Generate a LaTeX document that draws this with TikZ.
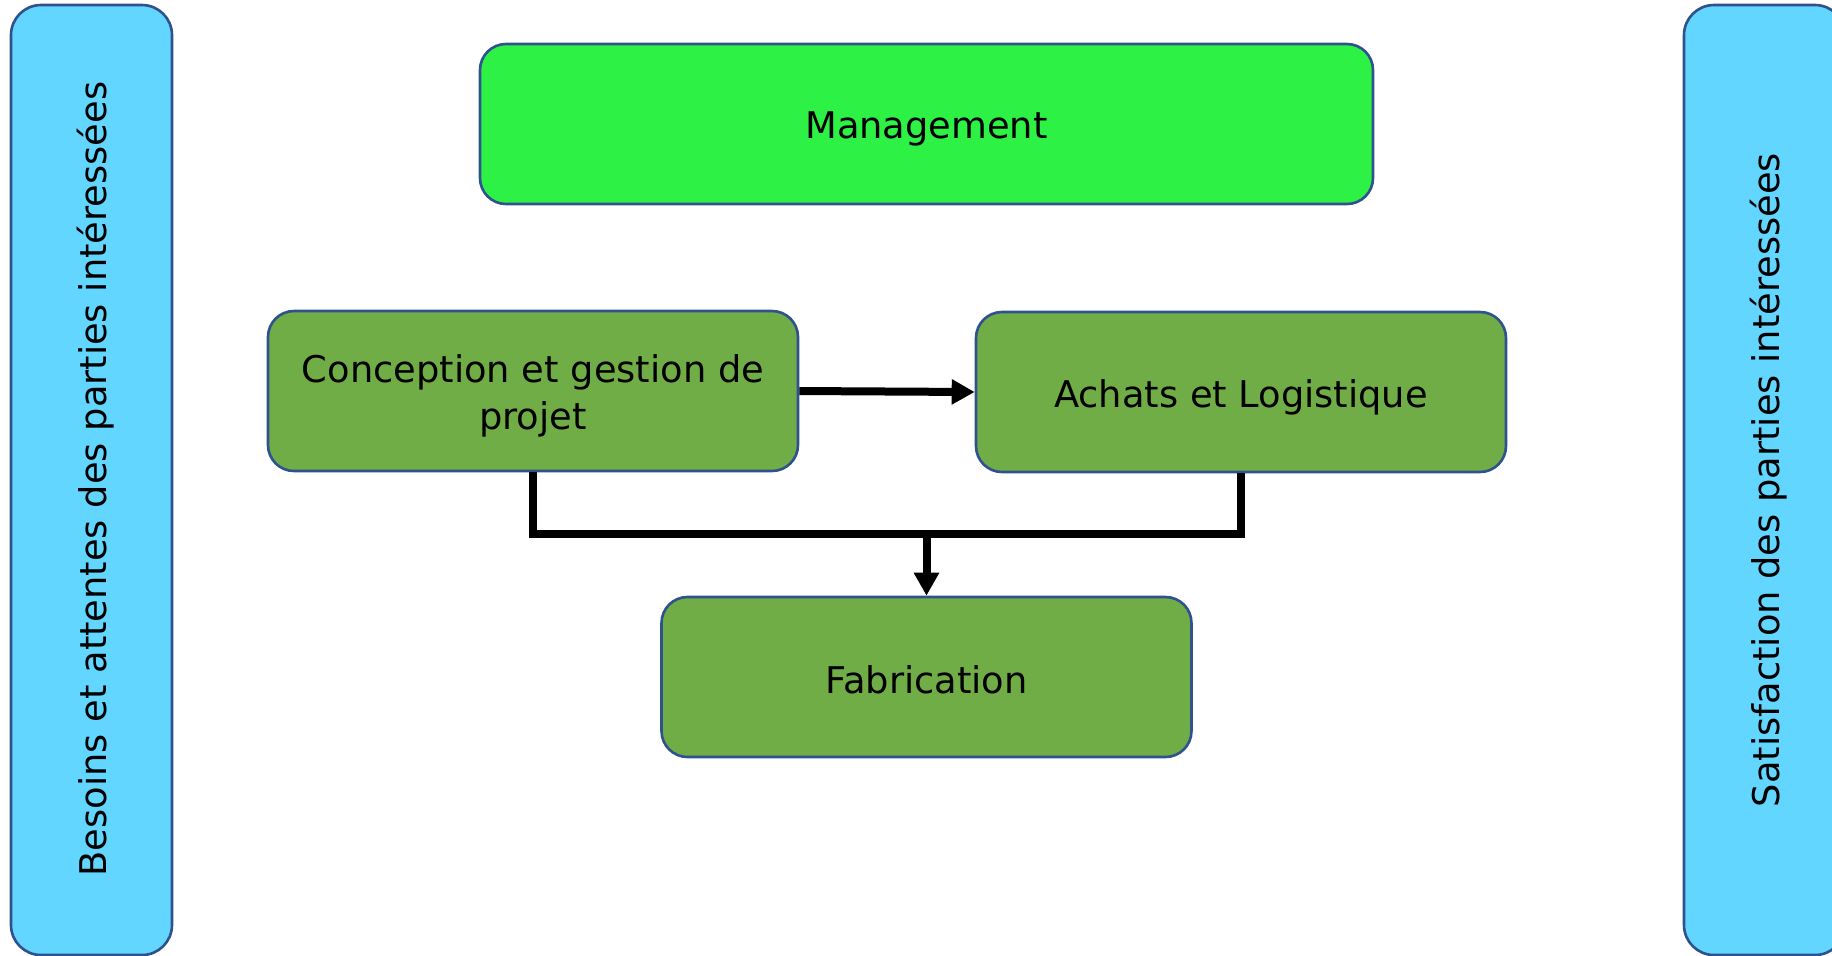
\documentclass[tikz,border=0pt]{standalone}
\usepackage{fontspec}
\setmainfont{DejaVu Sans}
\usetikzlibrary{arrows.meta}
\definecolor{sideblue}{HTML}{62D6FF}
\definecolor{edgeblue}{HTML}{2F528F}
\definecolor{mgmtgreen}{HTML}{2EF146}
\definecolor{procgreen}{HTML}{70AD47}
\tikzset{
  box/.style={draw=edgeblue, line width=1.3pt, rounded corners=13pt, inner sep=0pt},
  txt/.style={inner sep=0pt, align=center, font=\fontsize{18.4}{23.5}\selectfont, text=black},
  proc/.style={box, fill=procgreen, minimum width=265pt, minimum height=80pt},
  side/.style={box, fill=sideblue, minimum width=80.5pt, minimum height=475pt, rounded corners=15pt},
  conn/.style={line width=4pt, draw=black},
  tip/.style={-{Triangle[length=11.5pt,width=12pt]}}
}
\begin{document}
\begin{tikzpicture}[x=0.5pt,y=-0.5pt]
\useasboundingbox (0,0) rectangle (1832,955);
\begin{scope}
\clip (0,0) rectangle (1832,955);
\node[side] (left) at (91.5,480) {};
\node[txt, rotate=90] (lefttext) at (96,479) {Besoins et attentes des parties intéressées};
\node[side] (right) at (1764.5,480) {};
\node[txt, rotate=90] (righttext) at (1769,480) {Satisfaction des parties intéressées};
\node[box, fill=mgmtgreen, minimum width=446.5pt, minimum height=80pt] (mgmt) at (926.5,124) {};
\node[txt] (mgmttext) at (926.5,129) {Management};
\node[proc] (con) at (533,391) {};
\node[txt] (context) at (533,396) {Conception et gestion de\\projet};
\node[proc] (ach) at (1241,392) {};
\node[txt] (achtext) at (1241,397) {Achats et Logistique};
\node[proc] (fab) at (926.5,677) {};
\node[txt] (fabtext) at (926.5,680) {Fabrication};
\coordinate (j) at (926.5,534);
\draw[conn] (con.south) |- (j);
\draw[conn] (ach.south) |- (j);
\draw[conn, tip] (j) -- (fab.north);
\draw[conn, tip] (con.east) -- (ach.west);
\end{scope}
\end{tikzpicture}
\end{document}
